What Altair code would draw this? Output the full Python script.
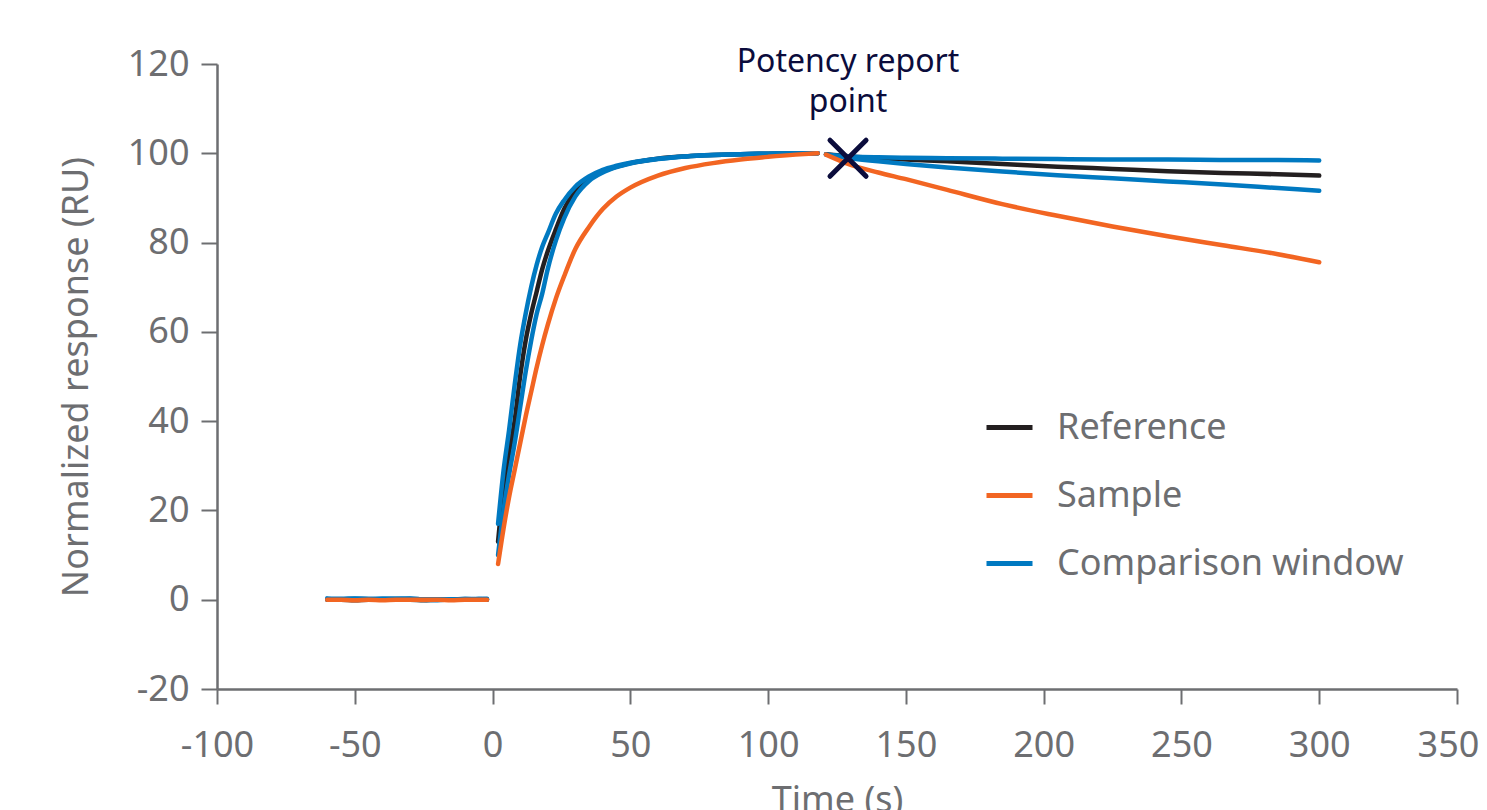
import altair as alt
import pandas as pd

# ---------------- data ----------------
series_order = ["Reference", "Sample", "Comparison window"]
series_colors = ["#231f20", "#f26522", "#0079c1"]

# baseline (before injection)
base_t = [-60, -55, -50, -45, -40, -35, -30, -25, -20, -15, -10, -5, -2]
base_ref = [0.0, 0.0, -0.1, 0.0, 0.0, 0.0, 0.0, -0.1, 0.0, 0.0, 0.0, 0.0, 0.0]
base_smp = [0.0, 0.0, -0.1, 0.0, -0.1, 0.0, 0.0, 0.0, 0.0, -0.1, 0.0, 0.0, 0.0]
base_cw_hi = [0.3, 0.2, 0.3, 0.1, 0.3, 0.3, 0.2, 0.1, 0.1, 0.0, 0.2, 0.1, 0.2]
base_cw_lo = [0.1, 0.0, 0.2, 0.2, 0.0, 0.1, 0.3, 0.0, -0.1, 0.1, 0.0, 0.2, 0.1]

# association
assoc_t = [2, 4, 6, 8, 10, 12, 14, 16, 18, 20, 23, 26, 30, 35, 40, 45, 50, 60, 70, 80, 90, 100, 110, 118]
assoc_ref = [13, 25, 33, 40, 50, 58, 64, 69, 74, 78, 83, 87.5, 91.5, 94.3, 96.0, 97.0, 97.8, 98.8, 99.3, 99.6, 99.8, 99.9, 100, 100]
assoc_smp = [8, 16, 23, 29, 35, 41, 46.5, 52, 57, 61.5, 67.5, 72.5, 78.5, 83.5, 87.5, 90.3, 92.3, 95.0, 96.7, 97.8, 98.6, 99.2, 99.7, 100]
assoc_cw_hi = [17, 29, 38, 48, 57, 64, 70, 75, 79, 82, 86.5, 89.5, 92.5, 94.8, 96.3, 97.2, 97.9, 98.8, 99.3, 99.6, 99.8, 99.9, 100, 100]
assoc_cw_lo = [10, 20, 28, 35, 43, 51, 58, 64, 68.5, 74, 80.5, 85.5, 90.3, 93.8, 95.7, 96.9, 97.7, 98.7, 99.3, 99.6, 99.8, 99.9, 100, 100]

# dissociation
dis_t = [121, 130, 140, 150, 165, 185, 205, 225, 245, 265, 285, 300]
dis_ref = [99.8, 99.3, 98.9, 98.6, 98.2, 97.6, 97.0, 96.5, 96.0, 95.6, 95.3, 95.0]
dis_smp = [99.7, 97.4, 95.7, 94.2, 91.8, 88.6, 86.0, 83.6, 81.4, 79.4, 77.4, 75.6]
dis_cw_hi = [99.7, 99.3, 99.1, 99.0, 98.9, 98.8, 98.7, 98.6, 98.6, 98.5, 98.5, 98.4]
dis_cw_lo = [99.7, 98.9, 98.2, 97.6, 96.8, 95.9, 95.1, 94.4, 93.7, 93.0, 92.2, 91.6]

# annotation
report_t = [129]
report_y = [98.9]
label_t = [129]
label_y = [118.3]
label_text = [["Potency report", "point"]]

# x axis ticks / y axis ticks
x_ticks = [-100, -50, 0, 50, 100, 150, 200, 250, 300, 350]
y_ticks = [-20, 0, 20, 40, 60, 80, 100, 120]

# ---------------- build table ----------------
curves = [
    ("Reference", "ref", base_ref, assoc_ref, dis_ref),
    ("Sample", "smp", base_smp, assoc_smp, dis_smp),
    ("Comparison window", "cwhi", base_cw_hi, assoc_cw_hi, dis_cw_hi),
    ("Comparison window", "cwlo", base_cw_lo, assoc_cw_lo, dis_cw_lo),
]
rows = []
for name, cid, b, a, d in curves:
    for seg, ts, vs in (("base", base_t, b), ("assoc", assoc_t, a), ("dis", dis_t, d)):
        for t, v in zip(ts, vs):
            rows.append({"series": name, "curve": cid + "_" + seg, "t": t, "y": v})
df = pd.DataFrame(rows)

GRAY = "#6d6e71"
NAVY = "#0b0c3c"
FONT = "Noto Sans"

xscale = alt.Scale(domain=[-100, 350], nice=False, zero=False)
yscale = alt.Scale(domain=[-20, 120], nice=False, zero=False)
cscale = alt.Scale(domain=series_order, range=series_colors)

xaxis = alt.Axis(values=x_ticks, title="Time (s)", grid=False, labelExpr="datum.value + ''",
                 tickSize=15, labelPadding=24, titlePadding=20, labelFlush=False,
                 labelOverlap=False,
                 labelOffset={"condition": {"test": "datum.value == 350", "value": -9}, "value": 0})
yaxis = alt.Axis(values=y_ticks, title="Normalized response (RU)", grid=False,
                 labelExpr="datum.value + ''", tickSize=16, labelPadding=12, titlePadding=32,
                 labelFlush=False, labelOverlap=False)


def line_layer(name):
    return alt.Chart(df).transform_filter(alt.datum.series == name).mark_line(
        strokeWidth=4.5, strokeCap="round", strokeJoin="round", interpolate="monotone"
    ).encode(
        x=alt.X("t:Q", scale=xscale, axis=xaxis),
        y=alt.Y("y:Q", scale=yscale, axis=yaxis),
        color=alt.Color("series:N", scale=cscale, sort=series_order,
                        legend=alt.Legend(title=None)),
        detail="curve:N",
        order="t:Q",
    )


lines = [line_layer("Reference"), line_layer("Comparison window"), line_layer("Sample")]

marker_df = pd.DataFrame({"t": report_t, "y": report_y})
marker = alt.Chart(marker_df).mark_point(
    shape="M-1,-1L1,1M-1,1L1,-1", size=1300, filled=False, stroke=NAVY,
    strokeWidth=5, strokeCap="round", opacity=1
).encode(x=alt.X("t:Q", scale=xscale), y=alt.Y("y:Q", scale=yscale))

label_df = pd.DataFrame({"t": label_t, "y": label_y, "txt": label_text})
label = alt.Chart(label_df).mark_text(
    font=FONT, fontSize=32, color=NAVY, align="center", baseline="alphabetic", lineHeight=40
).encode(x=alt.X("t:Q", scale=xscale), y=alt.Y("y:Q", scale=yscale), text="txt")

chart = alt.layer(*lines, marker, label).properties(
    width=1240, height=625,
    autosize=alt.AutoSizeParams(type="none"),
    padding={"left": 209, "top": 56, "right": 22, "bottom": 125},
    background="white",
).configure_view(stroke=None).configure_axis(
    domainColor=GRAY, domainWidth=2.5, tickColor=GRAY, tickWidth=2,
    labelColor=GRAY, labelFont=FONT, labelFontSize=36,
    titleColor=GRAY, titleFont=FONT, titleFontSize=36, titleFontWeight="normal",
).configure_legend(
    orient="none", legendX=767, legendY=338, padding=0,
    symbolType="stroke", symbolStrokeWidth=5, symbolSize=2116,
    labelFont=FONT, labelFontSize=36, labelColor=GRAY, labelOffset=22,
    rowPadding=24, labelLimit=600,
)

chart.save("out.html", embed_options={"renderer": "svg", "actions": False})
